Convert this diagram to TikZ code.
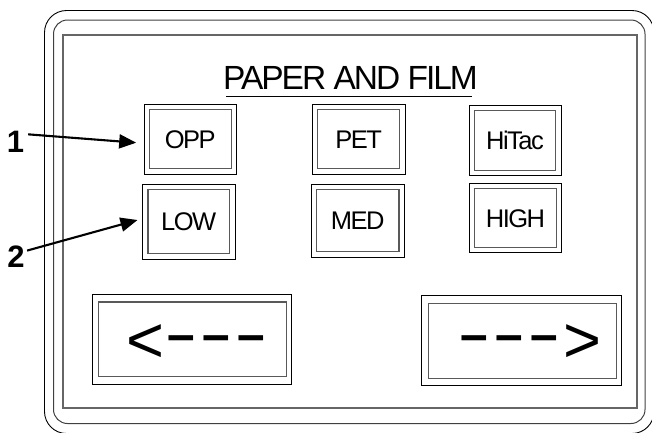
\documentclass[tikz,border=0pt]{standalone}
\usepackage{graphicx}
\usepackage{fontspec}
\setmainfont{Liberation Sans}
\newfontfamily\tightfont[LetterSpace=-6]{Liberation Sans}
\usetikzlibrary{arrows.meta,calc}
\newcommand\bigdash{\raisebox{7pt}{\scalebox{1.55}[1]{-}}\kern1.5pt}
\begin{document}
\begin{tikzpicture}[x=1pt,y=-1pt,
  frameA/.style={draw=black,line width=0.9pt},
  frameB/.style={draw=black!75,line width=1pt},
  frameC/.style={draw=black!60,line width=1.4pt},
  btn/.style={draw=black,line width=0.9pt,inner sep=0pt,
    font=\tightfont\fontsize{25.5}{25.5}\selectfont,text height=18.3pt,text depth=0pt},
  btninner/.style={draw=black!65,line width=1.2pt},
  num/.style={font=\bfseries\fontsize{31}{31}\selectfont,inner sep=0pt,anchor=base},
  ptr/.style={line width=2.1pt,-{Triangle[length=17pt,width=14pt]}},
  bigtxt/.style={font=\fontsize{65}{65}\selectfont,inner sep=0pt,anchor=base west},
  titletxt/.style={font=\tightfont\fontsize{33.5}{33.5}\selectfont,inner sep=0pt,anchor=base},
]
\useasboundingbox (0,0) rectangle (652,432);
% panel frames
\draw[frameA,rounded corners=22pt] (44.5,10.5) rectangle (654,433.5);
\draw[frameB,rounded corners=14pt] (53.5,20) rectangle (645,423.5);
\draw[frameC] (63,35) rectangle (637,408);
% title
\node[titletxt] (title) at (350.5,89.3) {PAPER AND FILM};
\draw[line width=1.2pt] (226,96.7) -- (471.7,96.7);
% buttons
\node[btn,minimum width=92.7pt,minimum height=70pt] (opp) at (190.3,139) {OPP};
\node[btn,minimum width=92.7pt,minimum height=70pt] (pet) at (358.6,139) {PET};
\node[btn,minimum width=92pt,minimum height=70.4pt] (hitac) at (515,140.5) {HiTac};
\node[btn,minimum width=92.5pt,minimum height=75pt] (low) at (188.7,221.5) {LOW};
\node[btn,minimum width=93.5pt,minimum height=73pt] (med) at (357.7,220.8) {MED};
\node[btn,minimum width=92.4pt,minimum height=69.4pt] (high) at (515.5,218) {HIGH};
\foreach \n in {opp,pet,hitac,low,med,high}
  \draw[btninner] ([shift={(6,6)}]\n.north west) rectangle ([shift={(-6,-6)}]\n.south east);
\node[btn,minimum width=199.4pt,minimum height=89.7pt] (back) at (192,339.2) {};
\node[btn,minimum width=200pt,minimum height=90pt] (fwd) at (521.7,340.7) {};
\foreach \n in {back,fwd}
  \draw[btninner] ([shift={(7,8)}]\n.north west) rectangle ([shift={(-5.5,-8)}]\n.south east);
\node[bigtxt] (backtxt) at (126,362) {<\bigdash\bigdash\bigdash};
\node[bigtxt] (fwdtxt) at (457.3,362) {\bigdash\bigdash\bigdash\kern1pt>};
% callouts
\node[num] (l1) at (15.5,152) {1};
\node[num] (l2) at (16,267) {2};
\draw[ptr] ([shift={(3.8,-7)}]l1.east) -- ([shift={(-7.3,3.7)}]opp.west);
\draw[ptr] ([shift={(2.3,-5.6)}]l2.east) -- ([shift={(-4.5,-1.5)}]low.west);
\end{tikzpicture}
\end{document}
